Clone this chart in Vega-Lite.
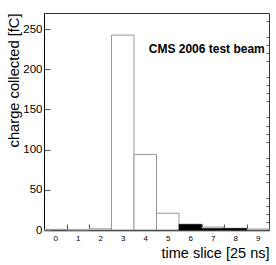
{
  "$schema": "https://vega.github.io/schema/vega-lite/v6.json",
  "width": 225,
  "height": 217,
  "autosize": {"type": "none"},
  "padding": {"left": 44, "top": 13, "right": 7, "bottom": 35},
  "background": "white",
  "config": {
    "view": {"stroke": "#333", "strokeWidth": 1},
    "font": "Liberation Sans"
  },
  "datasets": {
    "outline": [
      {"bin": 0, "charge": 0.8},
      {"bin": 1, "charge": 0},
      {"bin": 2, "charge": 1.5},
      {"bin": 3, "charge": 242.5},
      {"bin": 4, "charge": 94},
      {"bin": 5, "charge": 20.8},
      {"bin": 6, "charge": 7},
      {"bin": 7, "charge": 3.7},
      {"bin": 8, "charge": 2},
      {"bin": 9, "charge": 1.2}
    ],
    "filled": [
      {"bin": 6, "charge": 7},
      {"bin": 7, "charge": 2},
      {"bin": 8, "charge": 2}
    ],
    "label": [
      {"bin": 7, "y": 220, "text": "CMS 2006 test beam"}
    ]
  },
  "encoding": {
    "x": {
      "field": "bin", "type": "ordinal",
      "scale": {"domain": [0, 1, 2, 3, 4, 5, 6, 7, 8, 9], "paddingInner": 0, "paddingOuter": 0},
      "axis": {
        "title": "time slice [25 ns]",
        "titleFontSize": 14.5, "titleFontWeight": "normal", "titleColor": "black",
        "titleAlign": "right", "titleAnchor": "end", "titleX": 225, "titleY": 27, "titleBaseline": "alphabetic",
        "labelAngle": 0, "labelFontSize": 8, "labelColor": "black", "labelPadding": 10, "labelBaseline": "top",
        "tickBand": "extent", "tickSize": -6, "tickColor": "#555",
        "grid": false, "domainColor": "black", "domainWidth": 1.5
      }
    }
  },
  "layer": [
    {
      "data": {"name": "outline"},
      "mark": {"type": "bar", "fill": "white", "stroke": "#999", "strokeWidth": 1},
      "encoding": {
        "y": {
          "field": "charge", "type": "quantitative",
          "scale": {"domain": [0, 270], "nice": false},
          "axis": {
            "title": "charge collected [fC]",
            "titleFontSize": 14.7, "titleFontWeight": "normal", "titleColor": "black",
            "titleAngle": -90, "titleAlign": "right", "titleX": -26, "titleY": 0, "titleBaseline": "alphabetic",
            "values": [0, 50, 100, 150, 200, 250],
            "labelFontSize": 11.5, "labelColor": "black", "labelPadding": 8,
            "tickSize": -6, "tickColor": "#555",
            "grid": false, "domainColor": "black", "domainWidth": 1
          }
        }
      }
    },
    {
      "data": {"name": "filled"},
      "mark": {"type": "bar", "fill": "black", "stroke": "black", "strokeWidth": 0.5},
      "encoding": {
        "y": {
          "field": "charge", "type": "quantitative",
          "scale": {"domain": [0, 270], "nice": false},
          "axis": {
            "title": null, "labels": false, "domain": false, "grid": false,
            "values": [10, 20, 30, 40, 60, 70, 80, 90, 110, 120, 130, 140, 160, 170, 180, 190, 210, 220, 230, 240, 260],
            "tickSize": -3, "tickColor": "#555"
          }
        }
      }
    },
    {
      "data": {"name": "label"},
      "mark": {"type": "text", "fontSize": 12, "fontWeight": "bold", "align": "center", "baseline": "alphabetic", "color": "black", "dx": -6},
      "encoding": {
        "y": {"field": "y", "type": "quantitative", "scale": {"domain": [0, 270], "nice": false}, "axis": null},
        "text": {"field": "text"}
      }
    }
  ],
  "resolve": {"axis": {"y": "independent"}}
}
